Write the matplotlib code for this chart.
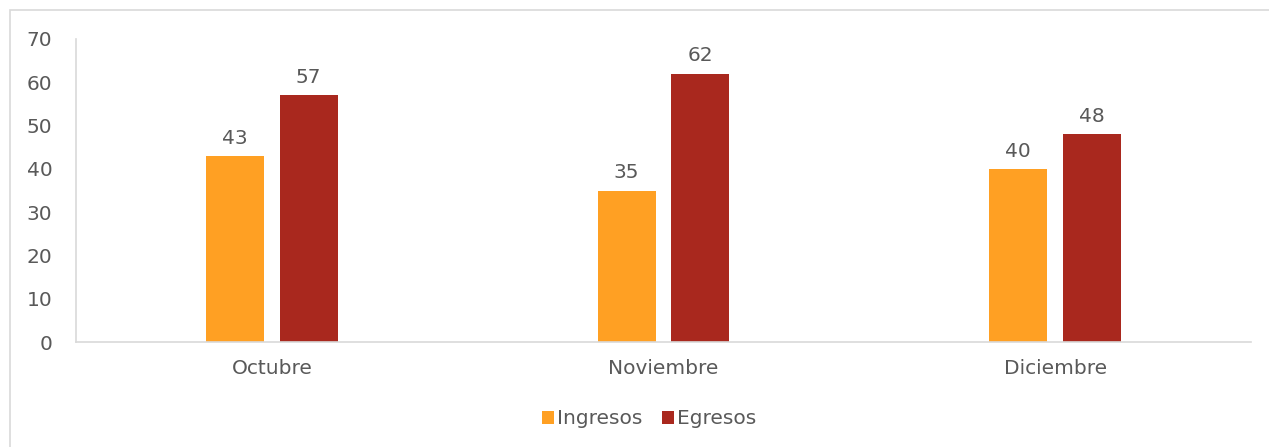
import matplotlib
matplotlib.use("Agg")
import matplotlib.pyplot as plt
from matplotlib.patches import Rectangle
import numpy as np

categories = ["Octubre", "Noviembre", "Diciembre"]
ingresos = [43, 35, 40]
egresos = [57, 62, 48]
series_names = ["Ingresos", "Egresos"]
colors = ["#FFA023", "#A9281E"]
text_color = "#595959"

plt.rcParams['font.family'] = ['DejaVu Sans']
fs = 14.5

fig = plt.figure(figsize=(12.69, 4.47), dpi=100)
fig.patches.append(Rectangle((10/1269, -0.01), 1.02, 1 - 10/447 + 0.01, transform=fig.transFigure,
                             fill=False, edgecolor="#D9D9D9", linewidth=1.2))
ax = fig.add_axes([76/1269, (447-342)/447, (1251-76)/1269, (342-39)/447])

x = np.arange(len(categories))
w = 0.148
off = 0.094
b1 = ax.bar(x - off, ingresos, w, color=colors[0], label=series_names[0])
b2 = ax.bar(x + off, egresos, w, color=colors[1], label=series_names[1])
for bars in (b1, b2):
    for r in bars:
        ax.annotate(f"{int(r.get_height())}", (r.get_x() + r.get_width()/2, r.get_height()),
                    xytext=(0, 6), textcoords="offset points", ha="center", va="bottom",
                    fontsize=fs, color=text_color)

ax.set_xlim(-0.5, 2.5)
ax.set_ylim(0, 70)
ax.set_yticks(range(0, 71, 10))
ax.set_xticks(x)
ax.set_xticklabels(categories)
ax.tick_params(axis="both", length=0, labelsize=fs, colors=text_color)
ax.tick_params(axis="y", pad=17)
ax.tick_params(axis="x", pad=12)
for s in ["top", "right"]:
    ax.spines[s].set_visible(False)
for s in ["left", "bottom"]:
    ax.spines[s].set_color("#D9D9D9")
    ax.spines[s].set_linewidth(1.2)

fig.legend(handles=[b1, b2], labels=series_names, loc="center", bbox_to_anchor=(649/1269, 1 - 419/447),
           ncol=2, frameon=False, fontsize=fs, labelcolor=text_color, handlelength=0.6,
           handleheight=0.6, handletextpad=0.15, columnspacing=1.0)

fig.savefig("out.png", dpi=100)
